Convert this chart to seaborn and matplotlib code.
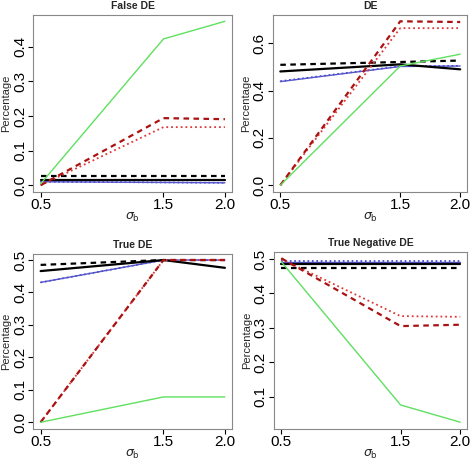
import matplotlib
matplotlib.use("Agg")
import matplotlib.pyplot as plt
import seaborn as sns
import pandas as pd

# -------------------------------
# Data
# -------------------------------
sigma_b = [0.5, 1.5, 2.0]

panel_titles = ["False DE", "DE", "True DE", "True Negative DE"]

green_solid = [[0.004, 0.423, 0.474], [0.0, 0.504, 0.554], [0.0, 0.078, 0.078], [0.492, 0.076, 0.026]]
red_dashed = [[0.0, 0.194, 0.191], [0.0, 0.693, 0.690], [0.0, 0.500, 0.500], [0.502, 0.305, 0.309]]
red_dotted = [[0.0, 0.168, 0.168], [0.0, 0.664, 0.664], [0.0, 0.500, 0.500], [0.500, 0.334, 0.332]]
black_solid = [[0.016, 0.016, 0.016], [0.481, 0.511, 0.490], [0.466, 0.500, 0.476], [0.485, 0.485, 0.485]]
black_dashed = [[0.027, 0.027, 0.027], [0.509, 0.521, 0.527], [0.485, 0.500, 0.500], [0.475, 0.475, 0.475]]
blue_solid = [[0.010, 0.008, 0.007], [0.438, 0.502, 0.504], [0.431, 0.500, 0.500], [0.491, 0.491, 0.491]]
blue_dotted = [[0.010, 0.008, 0.007], [0.440, 0.503, 0.505], [0.431, 0.500, 0.500], [0.494, 0.494, 0.494]]

y_ticks = [[0.0, 0.1, 0.2, 0.3, 0.4],
           [0.0, 0.2, 0.4, 0.6],
           [0.0, 0.1, 0.2, 0.3, 0.4, 0.5],
           [0.1, 0.2, 0.3, 0.4, 0.5]]

# series: (values, colour, linestyle, linewidth)
series = [
    (blue_dotted, "#3333cc", ":", 1.2),
    (blue_solid, "#5555cc", "-", 1.0),
    (black_solid, "black", "-", 1.6),
    (black_dashed, "black", (0, (2.5, 2)), 1.6),
    (red_dotted, "#e03838", ":", 1.3),
    (red_dashed, "#aa1111", (0, (2.5, 2)), 1.6),
    (green_solid, "#5fe05f", "-", 1.0),
]

# -------------------------------
# Plot
# -------------------------------
sns.set_style("white")
plt.rcParams['font.family'] = ['Liberation Sans', 'DejaVu Sans']

fig = plt.figure(figsize=(4.75, 4.61), dpi=100)
positions = [
    [0.070, 0.584, 0.419, 0.384],
    [0.575, 0.584, 0.409, 0.384],
    [0.070, 0.070, 0.419, 0.380],
    [0.577, 0.070, 0.407, 0.384],
]

for i, title in enumerate(panel_titles):
    ax = fig.add_axes(positions[i])
    for vals, col, ls, lw in series:
        df = pd.DataFrame({"sigma": sigma_b, "pct": vals[i]})
        sns.lineplot(data=df, x="sigma", y="pct", ax=ax, color=col,
                     linestyle=ls, linewidth=lw)
    ax.margins(x=0.04, y=0.04)
    ax.set_xticks(sigma_b)
    ax.set_xticklabels(["0.5", "1.5", "2.0"], fontsize=11)
    ax.set_yticks(y_ticks[i])
    ax.set_yticklabels([f"{t:.1f}" for t in y_ticks[i]], fontsize=11,
                       rotation=90, va="center")
    ax.tick_params(axis="both", direction="out", length=3.5, width=0.8,
                   bottom=True, left=True, pad=1, colors="black")
    for s in ax.spines.values():
        s.set_color("#888888")
        s.set_linewidth(0.8)
    ax.set_title(title, fontsize=7.5, fontweight="bold", pad=4)
    ax.set_xlabel(r"$\sigma_{\mathrm{b}}$", fontsize=9, labelpad=-1)
    ax.set_ylabel("Percentage", fontsize=8, labelpad=1)

plt.savefig("out.png", dpi=100)
